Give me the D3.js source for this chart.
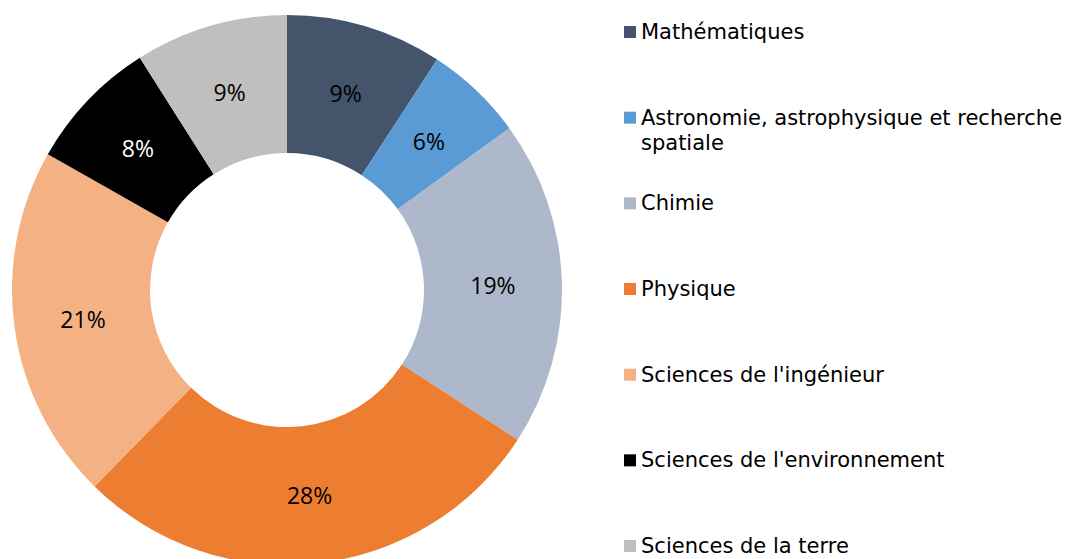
<!DOCTYPE html>
<html>
<head>
<meta charset="utf-8">
<script src="https://cdn.jsdelivr.net/npm/d3@7"></script>
<style>
  html, body { margin: 0; padding: 0; background: #fff; overflow: hidden; }
</style>
</head>
<body>
<div id="wrapper"></div>
<script>
const categories = [
    "Mathématiques",
    "Astronomie, astrophysique et recherche spatiale",
    "Chimie",
    "Physique",
    "Sciences de l'ingénieur",
    "Sciences de l'environnement",
    "Sciences de la terre",
]
const shares = [9.2, 5.8, 19.2, 28.2, 20.9, 7.8, 9.0]
const colors = ["#44546A", "#5B9BD5", "#ADB9CA", "#ED7D31", "#F4B183", "#000000", "#BFBFBF"]
const labelColors = ["#000", "#000", "#000", "#000", "#000", "#fff", "#000"]
// legend lines (long names wrap like in the original)
const legendLines = [
    ["Mathématiques"],
    ["Astronomie, astrophysique et recherche", "spatiale"],
    ["Chimie"],
    ["Physique"],
    ["Sciences de l'ingénieur"],
    ["Sciences de l'environnement"],
    ["Sciences de la terre"],
]

const dataset = categories.map((c, i) => ({ name: c, value: shares[i], i }))

const dimensions = {
    width: 1074,
    height: 559,
    cx: 287,
    cy: 290,
    outer: 275,
    inner: 137,
}

const wrapper = d3.select("#wrapper")
    .append("svg")
    .attr("width", dimensions.width)
    .attr("height", dimensions.height)

const bounds = wrapper.append("g")
    .attr("transform", `translate(${dimensions.cx},${dimensions.cy})`)

const pie = d3.pie()
    .value(d => d.value)
    .sort(null)

const arcs = pie(dataset)
const total = d3.sum(dataset, d => d.value)

const arc = d3.arc()
    .innerRadius(dimensions.inner)
    .outerRadius(dimensions.outer)

const labelArc = d3.arc()
    .innerRadius((dimensions.inner + dimensions.outer) / 2)
    .outerRadius((dimensions.inner + dimensions.outer) / 2)

// slices
bounds.selectAll("path")
    .data(arcs)
    .join("path")
    .attr("d", arc)
    .attr("fill", d => colors[d.data.i])

// percentage labels
bounds.selectAll("text")
    .data(arcs)
    .join("text")
    .attr("x", d => labelArc.centroid(d)[0])
    .attr("y", d => labelArc.centroid(d)[1])
    .attr("text-anchor", "middle")
    .attr("dominant-baseline", "central")
    .attr("font-family", "'Open Sans', 'Noto Sans', sans-serif")
    .attr("font-size", 23)
    .attr("fill", d => labelColors[d.data.i])
    .text(d => Math.round(d.data.value / total * 100) + "%")

// legend
const legendY = d3.scalePoint()
    .domain(categories)
    .range([32, 546])

const legend = wrapper.append("g")
    .attr("font-family", "'DejaVu Sans', Verdana, sans-serif")
    .attr("font-size", 21)
    .attr("fill", "#000")

const item = legend.selectAll("g")
    .data(dataset)
    .join("g")
    .attr("transform", d => `translate(624,${legendY(d.name)})`)

item.append("rect")
    .attr("x", 0)
    .attr("y", -6)
    .attr("width", 12)
    .attr("height", 12)
    .attr("fill", d => colors[d.i])

item.append("text")
    .attr("x", 17)
    .attr("y", 0)
    .attr("dominant-baseline", "central")
    .selectAll("tspan")
    .data(d => legendLines[d.i])
    .join("tspan")
    .attr("x", 17)
    .attr("dy", (d, k) => k === 0 ? 0 : 25)
    .text(d => d)
</script>
</body>
</html>
